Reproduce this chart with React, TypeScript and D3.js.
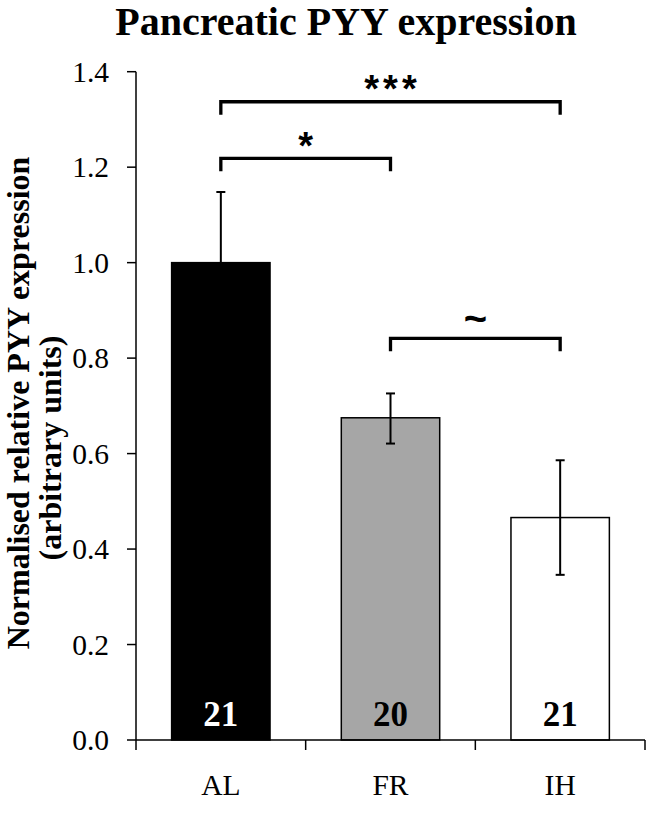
import React from "react";
import * as d3 from "d3";

const categories = ["AL", "FR", "IH"];
const means = [1.0, 0.675, 0.466];
const errUp = [0.148, 0.051, 0.12];
const errDown = [0, 0.054, 0.12];
const counts = ["21", "20", "21"];
const fills = ["#000000", "#a6a6a6", "#ffffff"];
const countColors = ["#ffffff", "#000000", "#000000"];
const yTicks = [0, 0.2, 0.4, 0.6, 0.8, 1.0, 1.2, 1.4];
const sigFrom = ["AL", "AL", "FR"];
const sigTo = ["IH", "FR", "IH"];
const sigLevel = [1.337, 1.2185, 0.8414];
const sigLabel = ["***", "*", "~"];

const W = 646;
const H = 814;
const serif = "'Liberation Serif', 'Times New Roman', serif";
const sans = "'Liberation Sans', Arial, sans-serif";

export default function App() {
  const y = d3.scaleLinear().domain([0, 1.4]).range([740, 71.7]);
  const xb = d3.scaleBand().domain(categories).range([136, 645]).padding(0);
  const x = d3
    .scaleBand()
    .domain(categories)
    .range([136, 645])
    .paddingInner(0.42)
    .paddingOuter(0.21);
  const cx = (c: string) => (x(c) as number) + x.bandwidth() / 2;
  const boundaries = [136, ...categories.map((c) => (xb(c) as number) + xb.bandwidth())];
  const drop = 13;

  return (
    <div style={{ position: "absolute", left: 0, top: 0 }}>
      <svg width={W} height={H} style={{ display: "block", background: "#fff" }}>
        <text x={346} y={35} textAnchor="middle" fontFamily={serif} fontWeight="bold" fontSize={40}>
          Pancreatic PYY expression
        </text>

        {/* y label */}
        <g fontFamily={serif} fontWeight="bold" textAnchor="middle">
          <text fontSize={32} transform={`translate(29,403) rotate(-90)`}>
            Normalised relative PYY expression
          </text>
          <text fontSize={32} transform={`translate(61,448) rotate(-90)`}>
            (arbitrary units)
          </text>
        </g>

        {/* bars */}
        {categories.map((c, i) => (
          <rect
            key={c}
            x={x(c)}
            y={y(means[i])}
            width={x.bandwidth()}
            height={y(0) - y(means[i])}
            fill={fills[i]}
            stroke="#000"
            strokeWidth={1.5}
          />
        ))}

        {/* error bars */}
        {categories.map((c, i) => {
          const top = y(means[i] + errUp[i]);
          const bot = y(means[i] - errDown[i]);
          const xc = cx(c);
          return (
            <g key={c} stroke="#000" strokeWidth={2}>
              <line x1={xc} x2={xc} y1={top} y2={bot} />
              <line x1={xc - 4.5} x2={xc + 4.5} y1={top} y2={top} />
              {errDown[i] > 0 && <line x1={xc - 4.5} x2={xc + 4.5} y1={bot} y2={bot} />}
            </g>
          );
        })}

        {/* counts */}
        {categories.map((c, i) => (
          <text
            key={c}
            x={cx(c)}
            y={726}
            textAnchor="middle"
            fontFamily={serif}
            fontWeight="bold"
            fontSize={35}
            fill={countColors[i]}
          >
            {counts[i]}
          </text>
        ))}

        {/* axes */}
        <g stroke="#000" strokeWidth={1.5}>
          <line x1={136} x2={136} y1={y(1.4)} y2={y(0)} />
          <line x1={136} x2={645} y1={y(0)} y2={y(0)} />
          {yTicks.map((t) => (
            <line key={t} x1={127} x2={136} y1={y(t)} y2={y(t)} />
          ))}
          {boundaries.map((b, i) => (
            <line key={i} x1={b} x2={b} y1={y(0)} y2={y(0) + 10} />
          ))}
        </g>
        {yTicks.map((t) => (
          <text
            key={t}
            x={109}
            y={y(t)}
            dy="0.35em"
            textAnchor="end"
            fontFamily={serif}
            fontSize={29.5}
          >
            {t.toFixed(1)}
          </text>
        ))}
        {categories.map((c) => (
          <text key={c} x={cx(c)} y={795} textAnchor="middle" fontFamily={serif} fontSize={29.5}>
            {c}
          </text>
        ))}

        {/* significance brackets */}
        {sigLabel.map((s, i) => {
          const x1 = cx(sigFrom[i]);
          const x2 = cx(sigTo[i]);
          const yy = y(sigLevel[i]);
          const isTilde = s === "~";
          return (
            <g key={i}>
              <path
                d={`M${x1},${yy + drop} V${yy} H${x2} V${yy + drop}`}
                fill="none"
                stroke="#000"
                strokeWidth={3.3}
              />
              <text
                x={(x1 + x2) / 2}
                y={isTilde ? yy - 6 : yy + 0.5}
                dx={s === "***" ? 2 : 0}
                textAnchor="middle"
                fontFamily={sans}
                fontWeight="bold"
                fontSize={isTilde ? 40 : 38}
                letterSpacing={s === "***" ? 4 : 0}
              >
                {s}
              </text>
            </g>
          );
        })}
      </svg>
    </div>
  );
}
